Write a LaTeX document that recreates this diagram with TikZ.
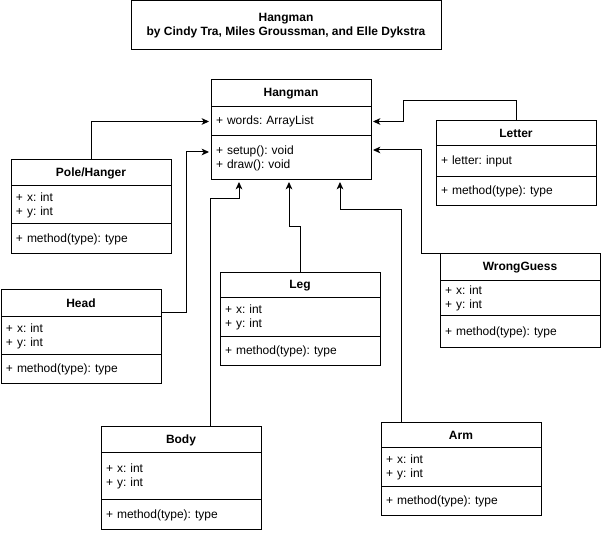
\documentclass[tikz,border=0pt]{standalone}
\usepackage{fontspec}
\setmainfont{Liberation Sans}
\usepackage{tikz}
\usetikzlibrary{arrows.meta,positioning}
\frenchspacing

\tikzset{
	cls/.style={draw,outer sep=0pt,minimum width=120pt,text width=112.5pt,
		inner xsep=3.75pt,inner ysep=0pt,anchor=north west},
	clshead/.style={cls,align=center,minimum height=19.5pt,
		font=\fontsize{9}{10.5}\selectfont\bfseries},
	clsattr/.style={cls,align=left,minimum height=28.5pt},
	clsmeth/.style={cls,align=left,minimum height=21.75pt},
}

\begin{document}
\begin{tikzpicture}[x=0.75pt,y=-0.75pt,line width=0.75pt,
		->,>={Stealth[length=5.5pt,width=5pt,inset=1.5pt]},shorten >=1.5pt,
		font=\fontsize{9}{10.5}\selectfont]
		\useasboundingbox (0,0) rectangle (601,534);
		
		\node[draw,-,outer sep=0pt,anchor=north west,minimum width=232.5pt,minimum height=36.75pt,
			align=center,font=\fontsize{9}{10.5}\selectfont\bfseries] (title) at (131,1)
			{Hangman\\by Cindy Tra, Miles Groussman, and Elle Dykstra};
		
		% main class
		\node[clshead,minimum height=20.25pt] (hang-h) at (211,80) {Hangman};
		\node[clsattr,below=0pt of hang-h,minimum height=21.75pt] (hang-a) {+ words: ArrayList};
		\node[clsmeth,below=0pt of hang-a,minimum height=33pt] (hang-m) {+ setup(): void\\+ draw(): void};
		
		\node[clshead] (pole-h) at (11,160) {Pole/Hanger};
		\node[clsattr,below=0pt of pole-h] (pole-a) {+ x: int\\+ y: int};
		\node[clsmeth,below=0pt of pole-a,minimum height=22.5pt] (pole-m) {+ method(type): type};
		
		\node[clshead,minimum height=18.75pt] (letter-h) at (436,121) {Letter};
		\node[clsattr,below=0pt of letter-h,minimum height=23.25pt] (letter-a) {+ letter: input};
		\node[clsmeth,below=0pt of letter-a] (letter-m) {+ method(type): type};
		
		\node[clshead,minimum height=20.25pt] (head-h) at (1,290) {Head};
		\node[clsattr,below=0pt of head-h] (head-a) {+ x: int\\+ y: int};
		\node[clsmeth,below=0pt of head-a] (head-m) {+ method(type): type};
		
		\node[clshead,minimum height=18.75pt] (leg-h) at (220,273) {Leg};
		\node[clsattr,below=0pt of leg-h,minimum height=29.25pt] (leg-a) {+ x: int\\+ y: int};
		\node[clsmeth,below=0pt of leg-a] (leg-m) {+ method(type): type};
		
		\node[clshead,minimum height=20.25pt] (wrong-h) at (440,254) {WrongGuess};
		\node[clsattr,below=0pt of wrong-h,minimum height=26.25pt] (wrong-a) {+ x: int\\+ y: int};
		\node[clsmeth,below=0pt of wrong-a,minimum height=24pt] (wrong-m) {+ method(type): type};
		
		\node[clshead] (body-h) at (101,427) {Body};
		\node[clsattr,below=0pt of body-h,minimum height=35.25pt] (body-a) {+ x: int\\+ y: int\\[5pt]};
		\node[clsmeth,below=0pt of body-a,minimum height=22.5pt] (body-m) {+ method(type): type};
		
		\node[clshead,minimum height=18.75pt] (arm-h) at (381,423) {Arm};
		\node[clsattr,below=0pt of arm-h,minimum height=29.25pt] (arm-a) {+ x: int\\+ y: int};
		\node[clsmeth,below=0pt of arm-a] (arm-m) {+ method(type): type};
		
		% connectors
		\draw (pole-h.north) |- (hang-a.west);
		\draw ([yshift=3pt]head-h.south east) -| (186,152) -- (hang-m.west |- 0,152);
		\draw (body-h.north -| 210,0) |- (239,199) -- (hang-m.south -| 239,0);
		\draw (leg-h.north) |- (289,227) -- (hang-m.south -| 289,0);
		\draw (arm-h.north -| 401,0) |- (340,210) -- (hang-m.south -| 340,0);
		\draw (letter-h.north) |- (403,101) |- (hang-a.east);
		\draw (wrong-h.north west) -| (421,150) -- (hang-m.east |- 0,150);
\end{tikzpicture}
\end{document}
